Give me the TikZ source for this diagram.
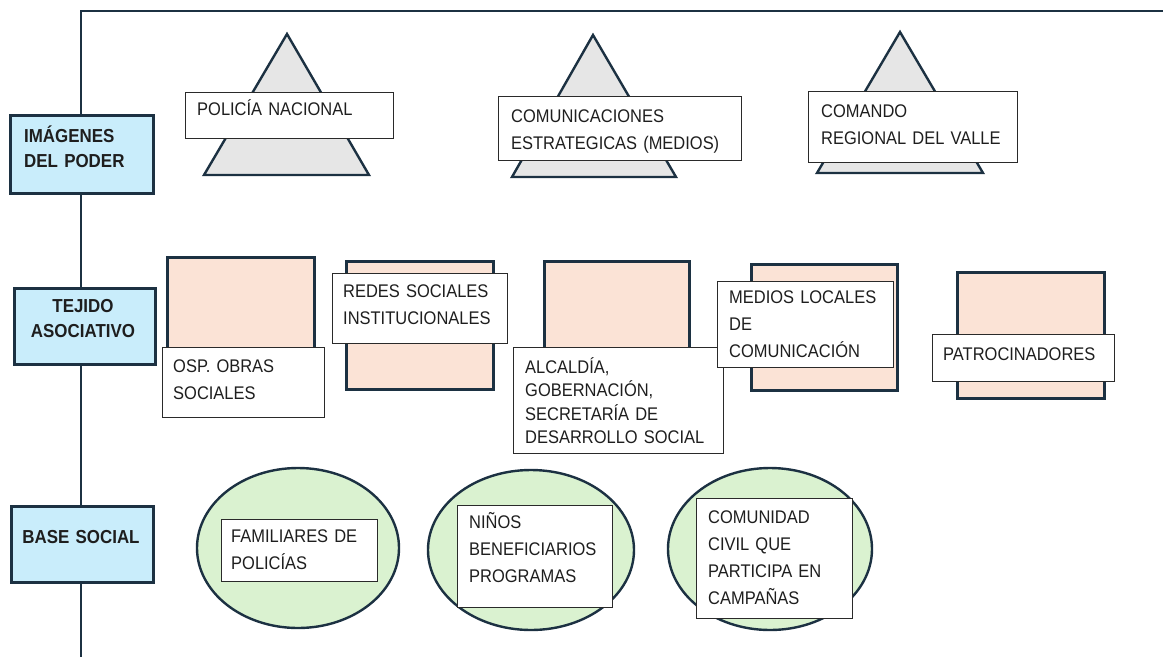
\documentclass[tikz,border=0pt]{standalone}
\usepackage{fontspec}
\setmainfont{Liberation Sans}[FakeStretch=0.9]
\usetikzlibrary{shapes.geometric}
\definecolor{dk}{HTML}{1C3142}
\definecolor{lblue}{HTML}{C9EDFB}
\definecolor{tgray}{HTML}{E6E6E6}
\definecolor{peach}{HTML}{FBE3D6}
\definecolor{lgreen}{HTML}{DAF2D0}
\definecolor{bx}{HTML}{2A2A2A}
\definecolor{tx}{HTML}{1E1E1E}
\newcommand\myregfont{\fontsize{18.3}{27}\selectfont\spaceskip=4pt\relax}
\newcommand\mytightfont{\fontsize{18.3}{23.5}\selectfont\spaceskip=4pt\relax}
\newcommand\myboldfont{\fontsize{18.8}{25}\selectfont\bfseries\spaceskip=4pt\relax}
\tikzset{
  axisline/.style={draw=dk, line width=2.6pt},
  lvl/.style={draw=dk, line width=2.6pt, fill=lblue, inner sep=0pt, anchor=north west},
  tri/.style={draw=dk, line width=2.4pt, fill=tgray, line join=miter},
  sq/.style={draw=dk, line width=2.8pt, fill=peach, inner sep=0pt, anchor=north west},
  ell/.style={ellipse, draw=dk, line width=2.4pt, fill=lgreen, inner sep=0pt},
  tbox/.style={draw=bx, line width=1.3pt, fill=white, inner sep=0pt, anchor=north west},
  txt/.style={anchor=base west, align=left, inner sep=0pt, text width=240pt, text=tx, font=\myregfont},
  lbl/.style={anchor=base, align=center, inner sep=0pt, text width=140pt, text=tx, font=\myboldfont},
}
\begin{document}
\begin{tikzpicture}[x=1pt,y=-1pt]
\useasboundingbox (0,0) rectangle (1163,657);
% axis
\coordinate (rtop) at (1163,11);
\coordinate (ltop) at (81,11);
\coordinate (lbot) at (81,657);
\draw[axisline] (rtop) -- (ltop) -- (lbot);
% level labels
\node[lvl, minimum width=143pt, minimum height=78pt] (l1) at (9,114) {};
\node[anchor=base west, align=left, inner sep=0pt, text width=130pt, text=tx, font=\myboldfont] (l1t) at (24,142) {IMÁGENES\\DEL PODER};
\node[lvl, minimum width=141pt, minimum height=76pt] (l2) at (13,287) {};
\node[lbl] (l2t) at (83,312) {TEJIDO\\ASOCIATIVO};
\node[lvl, minimum width=142pt, minimum height=76pt] (l3) at (10,505) {};
\node[lbl] (l3t) at (81,543) {BASE SOCIAL};
% triangles
\draw[tri] (287,34) -- (369,175) -- (204,175) -- cycle;
\draw[tri] (593,35) -- (676,177) -- (512,177) -- cycle;
\draw[tri] (900,32) -- (983,173) -- (817,173) -- cycle;
\node[tbox, minimum width=208pt, minimum height=46pt] (p1) at (185,92) {};
\node[txt] (p1t) at (197,115) {POLICÍA NACIONAL};
\node[tbox, minimum width=243pt, minimum height=64pt] (p2) at (498,96) {};
\node[txt] (p2t) at (511,122) {COMUNICACIONES\\ESTRATEGICAS (MEDIOS)};
\node[tbox, minimum width=209pt, minimum height=71pt] (p3) at (808,91) {};
\node[txt] (p3t) at (821,117) {COMANDO\\REGIONAL DEL VALLE};
% squares
\node[sq, minimum width=147pt, minimum height=139pt] (s1) at (166,256) {};
\node[tbox, minimum width=162pt, minimum height=70pt] (a1) at (162,347) {};
\node[txt] (a1t) at (173,372) {OSP. OBRAS\\SOCIALES};
\node[sq, minimum width=147pt, minimum height=128pt] (s2) at (345,260) {};
\node[tbox, minimum width=175pt, minimum height=70pt] (a2) at (332,273) {};
\node[txt] (a2t) at (343,297) {REDES SOCIALES\\INSTITUCIONALES};
\node[sq, minimum width=145pt, minimum height=140pt] (s3) at (543,260) {};
\node[tbox, minimum width=210pt, minimum height=106pt] (a3) at (513,347) {};
\node[txt, font=\mytightfont] (a3t) at (525,373) {ALCALDÍA,\\GOBERNACIÓN,\\SECRETARÍA DE\\DESARROLLO SOCIAL};
\node[sq, minimum width=146pt, minimum height=126pt] (s4) at (750,263) {};
\node[tbox, minimum width=176pt, minimum height=86pt] (a4) at (717,281) {};
\node[txt] (a4t) at (729,303) {MEDIOS LOCALES\\DE\\COMUNICACIÓN};
\node[sq, minimum width=147pt, minimum height=126pt] (s5) at (956,271) {};
\node[tbox, minimum width=182pt, minimum height=47pt] (a5) at (932,334) {};
\node[txt] (a5t) at (943,360) {PATROCINADORES};
% ellipses
\node[ell, minimum width=202pt, minimum height=160pt] (e1) at (298,548) {};
\node[tbox, minimum width=156pt, minimum height=62pt] (b1) at (221,519) {};
\node[txt] (b1t) at (231,542) {FAMILIARES DE\\POLICÍAS};
\node[ell, minimum width=206pt, minimum height=160pt] (e2) at (531,550) {};
\node[tbox, minimum width=155pt, minimum height=102pt] (b2) at (457,505) {};
\node[txt] (b2t) at (469,528) {NIÑOS\\BENEFICIARIOS\\PROGRAMAS};
\node[ell, minimum width=204pt, minimum height=162pt] (e3) at (770,549) {};
\node[tbox, minimum width=156pt, minimum height=120pt] (b3) at (696,498) {};
\node[txt] (b3t) at (708,523) {COMUNIDAD\\CIVIL QUE\\PARTICIPA EN\\CAMPAÑAS};
\end{tikzpicture}
\end{document}
